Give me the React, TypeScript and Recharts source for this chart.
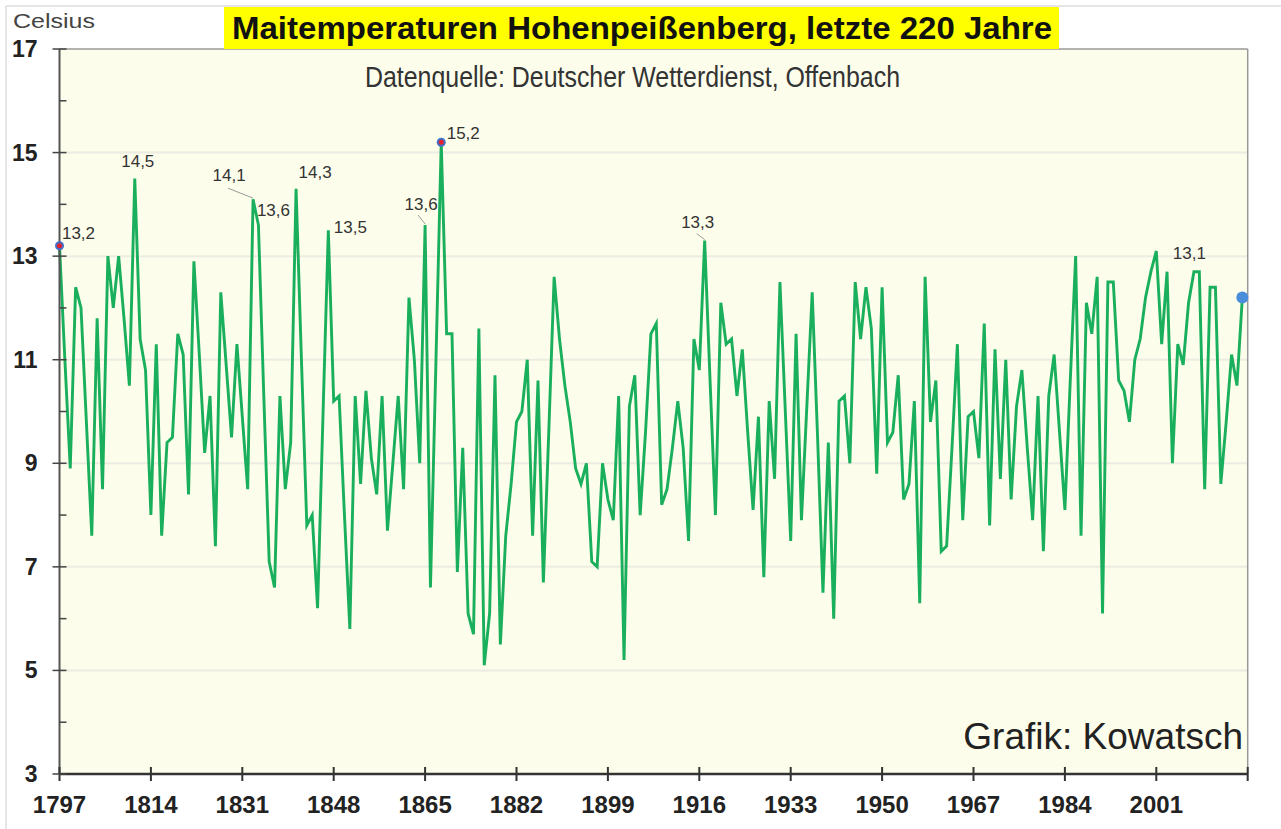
import { CartesianGrid, Line, LineChart, ReferenceLine, XAxis, YAxis } from "recharts";

// Mai-Mittel Hohenpeißenberg in °C
const may1797to1849 = [
  13.2, 11.0, 8.9, 12.4, 12.0, 9.8, 7.6, 11.8, 8.5, 13.0,
  12.0, 13.0, 11.8, 10.5, 14.5, 11.4, 10.8, 8.0, 11.3, 7.6,
  9.4, 9.5, 11.5, 11.1, 8.4, 12.9, 11.1, 9.2, 10.3, 7.4,
  12.3, 10.9, 9.5, 11.3, 9.9, 8.5, 14.1, 13.6, 10.3, 7.1,
  6.6, 10.3, 8.5, 9.4, 14.3, 11.0, 7.8, 8.0, 6.2, 9.9,
  13.5, 10.2, 10.3,
];
const may1850to1899 = [
  8.0, 5.8, 10.3, 8.6, 10.4, 9.1, 8.4, 10.3, 7.7, 9.0,
  10.3, 8.5, 12.2, 11.0, 9.0, 13.6, 6.6, 10.9, 15.2, 11.5,
  11.5, 6.9, 9.3, 6.1, 5.7, 11.6, 5.1, 6.1, 10.7, 5.5,
  7.6, 8.6, 9.8, 10.0, 11.0, 7.6, 10.6, 6.7, 9.6, 12.6,
  11.4, 10.5, 9.8, 8.9, 8.6, 9.0, 7.1, 7.0, 9.0, 8.3,
];
const may1900to1949 = [
  7.9, 10.3, 5.2, 10.1, 10.7, 8.0, 9.6, 11.5, 11.7, 8.2,
  8.5, 9.3, 10.2, 9.3, 7.5, 11.4, 10.8, 13.3, 10.6, 8.0,
  12.1, 11.3, 11.4, 10.3, 11.2, 9.6, 8.1, 9.9, 6.8, 10.2,
  8.7, 12.5, 10.0, 7.5, 11.5, 7.9, 10.1, 12.3, 9.5, 6.5,
  9.4, 6.0, 10.2, 10.3, 9.0, 12.5, 11.4, 12.4, 11.6, 8.8,
];
const may1950to1999 = [
  12.4, 9.4, 9.6, 10.7, 8.3, 8.6, 10.2, 6.3, 12.6, 9.8,
  10.6, 7.3, 7.4, 9.3, 11.3, 7.9, 9.9, 10.0, 9.1, 11.7,
  7.8, 11.2, 8.7, 11.0, 8.3, 10.1, 10.8, 9.3, 7.9, 10.3,
  7.3, 10.3, 11.1, 9.6, 8.1, 10.6, 13.0, 7.6, 12.1, 11.5,
  12.6, 6.1, 12.5, 12.5, 10.6, 10.4, 9.8, 11.0, 11.4, 12.2,
];
const may2000to2017 = [
  12.7, 13.1, 11.3, 12.7, 9.0, 11.3, 10.9, 12.1, 12.7, 12.7,
  8.5, 12.4, 12.4, 8.6, 9.8, 11.1, 10.5, 12.2,
];

const firstYear = 1797;
const temps = [...may1797to1849, ...may1850to1899, ...may1900to1949, ...may1950to1999, ...may2000to2017];
const years = temps.map((_, i) => firstYear + i);
const data = years.map((year, i) => ({ year, temp: temps[i] }));

const xTicks = [1797, 1814, 1831, 1848, 1865, 1882, 1899, 1916, 1933, 1950, 1967, 1984, 2001, 2018];
const yTicks = [3, 4, 5, 6, 7, 8, 9, 10, 11, 12, 13, 14, 15, 16, 17];
const gridValues = [5, 7, 9, 11, 13, 15];
const redMarkerYears = [1797, 1868];
const lastYear = 2017;

// beschriftete Spitzen, Versatz des Textes zum Punkt
const peakLabels = [
  { year: 1797, dx: 19, dy: -13 },
  { year: 1811, dx: 3, dy: -17 },
  { year: 1833, dx: -24, dy: -24, leader: [-25, -11] },
  { year: 1834, dx: 15, dy: -15 },
  { year: 1841, dx: 19, dy: -17 },
  { year: 1847, dx: 22, dy: -3 },
  { year: 1865, dx: -4, dy: -21, leader: [-7, -10] },
  { year: 1868, dx: 22, dy: -9 },
  { year: 1917, dx: -7, dy: -19, leader: [-8, -7] },
  { year: 2001, dx: 33, dy: 2 },
];

const font = "'Liberation Sans', Arial, sans-serif";

function XTick(props: any) {
  const { x, y, payload } = props;
  return (
    <g>
      <line x1={x} x2={x} y1={y - 7} y2={y + 7} stroke="#333" strokeWidth={2} />
      {payload.value !== 2018 && (
        <text x={x} y={y + 39} textAnchor="middle" fontSize={24} fontWeight="bold" fill="#222" fontFamily={font}>
          {payload.value}
        </text>
      )}
    </g>
  );
}

function YTick(props: any) {
  const { x, y, payload } = props;
  const major = payload.value % 2 === 1;
  return (
    <g>
      <line x1={major ? x - 7 : x} x2={x + 7} y1={y} y2={y} stroke="#444" strokeWidth={1.5} />
      {major && (
        <text x={x - 22} y={y + 8} textAnchor="end" fontSize={23} fontWeight="bold" fill="#222" fontFamily={font}>
          {payload.value}
        </text>
      )}
    </g>
  );
}

function renderDot(props: any) {
  const { cx, cy, index } = props;
  const year = data[index].year;
  if (redMarkerYears.includes(year)) {
    return (
      <g key={`dot-${index}`}>
        <circle cx={cx} cy={cy} r={4.5} fill="#4270C8" />
        <circle cx={cx} cy={cy} r={2.5} fill="#E3202B" />
      </g>
    );
  }
  if (year === lastYear) {
    return <circle key={`dot-${index}`} cx={cx} cy={cy} r={6} fill="#4A8EDB" />;
  }
  return <g key={`dot-${index}`} />;
}

function renderLabel(props: any) {
  const { x, y, index } = props;
  const item = data[index];
  const lab = peakLabels.find((l) => l.year === item.year);
  if (!lab) return <g key={`lab-${index}`} />;
  return (
    <g key={`lab-${index}`}>
      {lab.leader && (
        <line x1={x + lab.leader[0]} y1={y + lab.leader[1]} x2={x} y2={y - 1} stroke="#999" strokeWidth={1} />
      )}
      <text x={x + lab.dx} y={y + lab.dy + 6} textAnchor="middle" fontSize={17} fill="#333" fontFamily={font}>
        {item.temp.toFixed(1).replace(".", ",")}
      </text>
    </g>
  );
}

export default function App() {
  return (
    <div style={{ position: "absolute", left: 0, top: 0, width: 1281, height: 829, background: "#fff" }}>
      <LineChart width={1281} height={829} data={data} margin={{ top: 49, right: 33.3, bottom: 0, left: 0 }}>
        <CartesianGrid vertical={false} horizontalValues={gridValues} stroke="#ECECE2" strokeWidth={2} fill="#FDFDEB" />
        <XAxis
          type="number"
          dataKey="year"
          domain={[1797, 2018]}
          ticks={xTicks}
          interval={0}
          height={55}
          tickLine={false}
          tickSize={0}
          tickMargin={0}
          tick={<XTick />}
          axisLine={{ stroke: "#333", strokeWidth: 2.5 }}
        />
        <YAxis
          type="number"
          domain={[3, 17]}
          ticks={yTicks}
          interval={0}
          width={59.5}
          tickLine={false}
          tickSize={0}
          tickMargin={0}
          tick={<YTick />}
          axisLine={{ stroke: "#555", strokeWidth: 2 }}
        />
        <ReferenceLine y={17} stroke="#999" strokeWidth={1.5} />
        <ReferenceLine x={2018} stroke="#999" strokeWidth={1.5} />
        <Line
          type="linear"
          dataKey="temp"
          stroke="#1AAF5D"
          strokeWidth={2.9}
          dot={renderDot}
          activeDot={false}
          label={renderLabel}
          isAnimationActive={false}
        />
      </LineChart>
      <svg width={1281} height={829} style={{ position: "absolute", left: 0, top: 0, pointerEvents: "none" }}>
        <line x1={6} y1={6} x2={1281} y2={6} stroke="#DDD" strokeWidth={1.5} />
        <line x1={6} y1={6} x2={6} y2={829} stroke="#DDD" strokeWidth={1.5} />
        <rect x={224} y={7} width={835} height={42} fill="#FFFF00" />
        <text x={232} y={39} fontSize={32} fontWeight="bold" fill="#111" fontFamily={font} textLength={820} lengthAdjust="spacingAndGlyphs">
          Maitemperaturen Hohenpeißenberg, letzte 220 Jahre
        </text>
        <text x={13} y={28} fontSize={21} fill="#444" fontFamily={font} textLength={82} lengthAdjust="spacingAndGlyphs">
          Celsius
        </text>
        <text x={365} y={87} fontSize={29} fill="#333" fontFamily={font} textLength={535} lengthAdjust="spacingAndGlyphs">
          Datenquelle: Deutscher Wetterdienst, Offenbach
        </text>
        <text x={1243} y={749} textAnchor="end" fontSize={37} fill="#222" fontFamily={font}>
          Grafik: Kowatsch
        </text>
      </svg>
    </div>
  );
}
